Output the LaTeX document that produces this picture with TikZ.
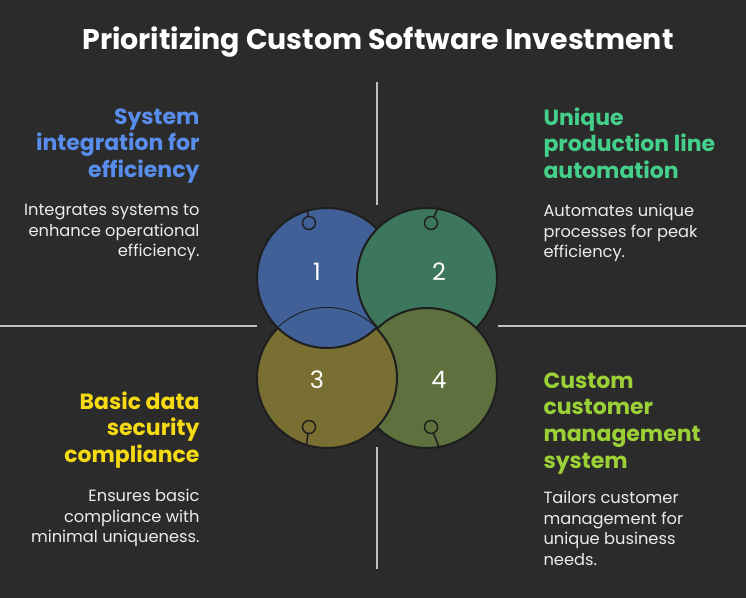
\documentclass[tikz,border=0pt]{standalone}
\usepackage{fontspec}
\setmainfont{Poppins}
\usetikzlibrary{positioning}

\definecolor{bgdark}{RGB}{43,43,43}
\definecolor{ringdark}{RGB}{30,30,30}
\definecolor{rulegray}{RGB}{192,192,192}
\definecolor{bodywhite}{RGB}{236,236,236}
\definecolor{discblue}{RGB}{64,96,151}
\definecolor{discteal}{RGB}{60,118,92}
\definecolor{discolive}{RGB}{121,111,50}
\definecolor{discmoss}{RGB}{94,112,62}
\definecolor{headblue}{RGB}{88,141,236}
\definecolor{headgreen}{RGB}{68,208,138}
\definecolor{headyellow}{RGB}{246,218,20}
\definecolor{headlime}{RGB}{155,208,54}

\tikzset{every picture/.style={line width=0.75pt}}

\begin{document}
\begin{tikzpicture}[x=0.75pt,y=0.75pt,yscale=-1,xscale=1,
  disc/.style={circle,draw=ringdark,line width=1.5pt,minimum size=105pt,inner sep=0pt},
  pin/.style={circle,draw=ringdark,line width=1.1pt,minimum size=9.75pt,inner sep=0pt},
  stem/.style={draw=ringdark,line width=1.1pt},
  divider/.style={draw=rulegray,line width=1.5pt},
  numtxt/.style={text=white,font=\fontsize{18}{18}\selectfont,inner sep=0pt},
  headtxt/.style={font=\fontsize{16.5}{20}\selectfont\bfseries,inner sep=0pt},
  bodytxt/.style={font=\fontsize{12.2}{15.4}\selectfont,text=bodywhite,inner sep=0pt}]
%set diagram size: 746 x 598
\fill [bgdark] (0,0) rectangle (746,598);
\useasboundingbox (0,0) rectangle (746,598);

%Straight Lines
\draw [divider] (377,82) -- (377,205) ;
\draw [divider] (377,447) -- (377,569) ;
\draw [divider] (0,326) -- (257,326) ;
\draw [divider] (498,326) -- (746,326) ;

%Shape: Circle
\node (c1) [disc,fill=discblue] at (327,278) {};
\node (p1) [pin] at (309,223) {};
\draw [stem] (p1) -- (c1.106) ;
%Shape: Circle
\node (c2) [disc,fill=discteal] at (427,278) {};
\node (p2) [pin] at (431,223) {};
\draw [stem] (p2) -- (c2.81) ;
%Shape: Circle
\node (c4) [disc,fill=discmoss] at (427,378) {};
\node (p4) [pin] at (431,427) {};
\draw [stem] (p4) -- (c4.-80) ;
%Shape: Circle
\node (c3) [disc,fill=discolive] at (327,378) {};
\node (p3) [pin] at (309,427) {};
\draw [stem] (p3) -- (c3.-107) ;
%circle 1 lies over circle 3
\begin{scope}
\clip (c3.center) circle (70);
\draw [fill=discblue,draw=ringdark,line width=1.5pt] (c1.center) circle (70);
\end{scope}

% Text Node
\node (n1) [numtxt] at (317,272) {1};
\node (n2) [numtxt] at (439,272) {2};
\node (n3) [numtxt] at (317,380) {3};
\node (n4) [numtxt] at (439,380) {4};

% Text Node
\node (title) [anchor=north,inner sep=0pt,text=white,font=\fontsize{21.3}{24}\selectfont\bfseries] at (378,26) {Prioritizing Custom Software Investment};

% Text Node
\node (h1) [headtxt,text=headblue,anchor=north east,align=right] at (200,108) {System\\integration for\\efficiency};
\node (b1) [bodytxt,anchor=north east,align=right] at (200,204) {Integrates systems to\\enhance operational\\efficiency.};
% Text Node
\node (h2) [headtxt,text=headgreen,anchor=north west,align=left] at (543,107) {Unique\\production line\\automation};
\node (b2) [bodytxt,anchor=north west,align=left] at (543,204) {Automates unique\\processes for peak\\efficiency.};
% Text Node
\node (h3) [headtxt,text=headyellow,anchor=north east,align=right] at (200,391) {Basic data\\security\\compliance};
\node (b3) [bodytxt,anchor=north east,align=right] at (200,489) {Ensures basic\\compliance with\\minimal uniqueness.};
% Text Node
\node (h4) [headtxt,text=headlime,anchor=north west,align=left] at (543,372) {Custom\\customer\\management\\system};
\node (b4) [bodytxt,anchor=north west,align=left] at (543,491) {Tailors customer\\management for\\unique business\\needs.};

\end{tikzpicture}
\end{document}
